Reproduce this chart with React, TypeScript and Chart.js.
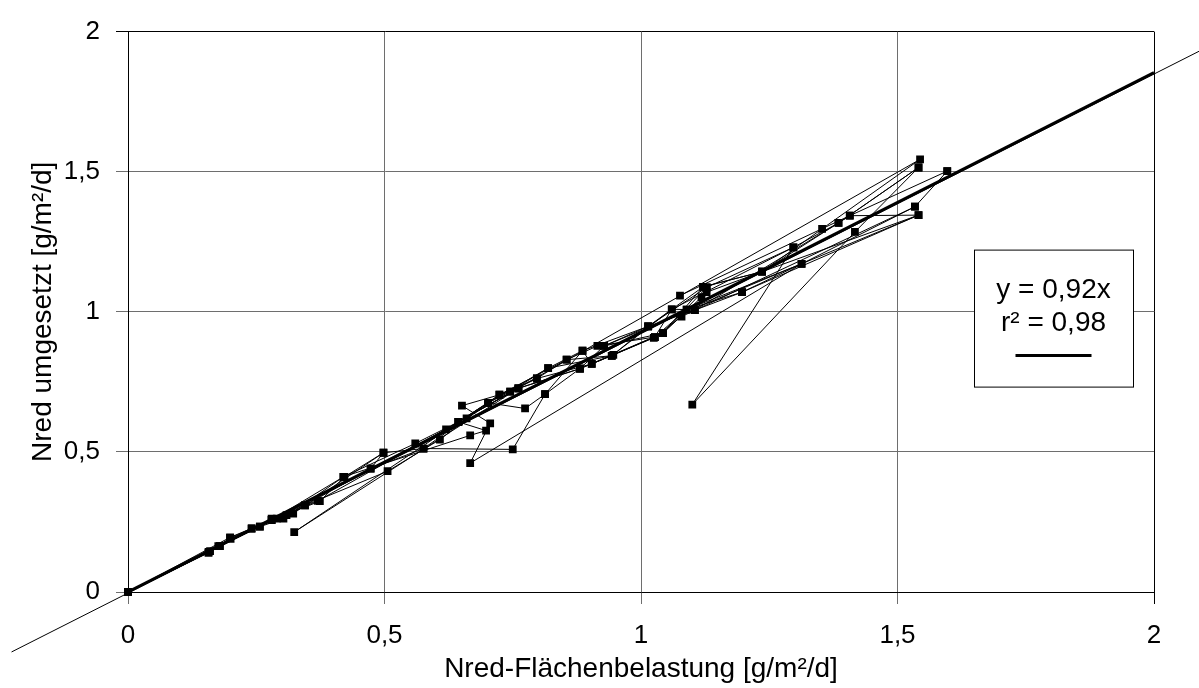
import { useEffect, useRef } from "react";
import { Chart, registerables } from "chart.js";

Chart.register(...registerables);

// ---- data (x = Nred-Flächenbelastung, y = Nred umgesetzt) ----
const tickValues = [0, 0.5, 1, 1.5, 2];

const run1: [number, number][] = [
  [0, 0], [0.157, 0.14], [0.199, 0.193], [0.28, 0.257], [0.374, 0.324], [0.422, 0.411],
  [0.498, 0.497], [0.473, 0.44], [0.576, 0.512], [0.75, 0.509], [0.813, 0.706], [0.886, 0.861],
  [1.014, 0.948], [1.121, 1.089], [1.236, 1.143], [1.353, 1.296], [1.544, 1.544], [0.644, 0.607],
  [0.761, 0.727], [0.881, 0.797], [1.043, 0.924], [1.128, 1.087],
];

const run2: [number, number][] = [
  [0, 0], [0.176, 0.164], [0.241, 0.225], [0.309, 0.274], [0.345, 0.309], [0.506, 0.431],
  [0.608, 0.544], [0.702, 0.675], [0.819, 0.799], [0.943, 0.843], [1.06, 1.009], [1.297, 1.23],
  [1.1, 0.669], [1.417, 1.285], [1.541, 1.515], [1.385, 1.317], [1.105, 1.006], [1.197, 1.07],
  [1.541, 1.345], [1.407, 1.343], [1.076, 1.058],
];

const run3: [number, number][] = [
  [0, 0], [0.157, 0.143], [0.179, 0.164], [0.257, 0.233], [0.29, 0.262], [0.37, 0.325],
  [0.761, 0.727], [0.324, 0.214], [0.724, 0.704], [0.855, 0.829], [0.915, 0.878], [1.027, 0.91],
  [1.089, 1.008], [1.313, 1.171], [0.667, 0.46], [0.706, 0.602], [0.651, 0.665], [0.745, 0.715],
  [0.797, 0.762], [0.904, 0.814], [1.025, 0.907], [1.079, 0.983], [1.534, 1.375], [1.597, 1.502],
];

const run4: [number, number][] = [
  [0, 0], [0.199, 0.195], [0.28, 0.257], [0.42, 0.411], [0.667, 0.559], [0.698, 0.576],
  [0.644, 0.607], [0.702, 0.675], [0.774, 0.655], [0.813, 0.706], [0.881, 0.797], [0.946, 0.846],
  [1.043, 0.924], [1.118, 1.052], [1.128, 1.07], [1.236, 1.143], [1.541, 1.345], [0.928, 0.878],
  [1.014, 0.948], [1.105, 1.006],
];

const run5: [number, number][] = [
  [0, 0], [0.16, 0.146], [0.241, 0.228], [0.322, 0.28], [0.498, 0.497], [0.576, 0.512],
  [0.66, 0.62], [0.724, 0.704], [0.797, 0.762], [0.855, 0.829], [0.943, 0.843], [1.014, 0.948],
  [1.128, 1.087], [1.297, 1.23], [1.385, 1.317], [1.541, 1.515],
];

const run6: [number, number][] = [
  [0, 0], [0.179, 0.164], [0.28, 0.262], [0.345, 0.309], [0.473, 0.44], [0.62, 0.58],
  [0.702, 0.675], [0.745, 0.715], [0.819, 0.799], [0.886, 0.861], [0.904, 0.814], [1.027, 0.91],
  [1.06, 1.009], [1.089, 1.008], [1.197, 1.07], [1.313, 1.171], [1.534, 1.375],
];

const run7: [number, number][] = [
  [0, 0], [0.2, 0.19], [0.257, 0.233], [0.303, 0.262], [0.42, 0.411], [0.56, 0.53],
  [0.644, 0.607], [0.761, 0.727], [0.881, 0.797], [0.928, 0.878], [1.043, 0.924], [1.121, 1.089],
  [1.236, 1.143], [1.407, 1.343], [1.597, 1.502],
];

const runs = [run1, run2, run3, run4, run5, run6, run7];

const trendLine: [number, number][] = [[0, 0], [2, 1.854]];
const trendExtension: [number, number][] = [[-0.227, -0.214], [2.088, 1.93]];

const legendLines = ["y = 0,92x", "r² = 0,98"];
const xTitle = "Nred-Flächenbelastung [g/m²/d]";
const yTitle = "Nred umgesetzt [g/m²/d]";

const FONT = "'Liberation Sans', Arial, Helvetica, sans-serif";

const toPts = (arr: [number, number][]) => arr.map(([x, y]) => ({ x, y }));

const legendBoxPlugin = {
  id: "legendBox",
  afterDatasetsDraw(chart: any) {
    const { ctx, chartArea } = chart;
    const w = 159;
    const h = 137;
    const left = chartArea.right - 180;
    const top = chartArea.top + 218;
    const cx = left + w / 2;
    ctx.save();
    ctx.fillStyle = "#fff";
    ctx.fillRect(left, top, w, h);
    ctx.strokeStyle = "#000";
    ctx.lineWidth = 1;
    ctx.strokeRect(left + 0.5, top + 0.5, w, h);
    ctx.fillStyle = "#000";
    ctx.font = `28px ${FONT}`;
    ctx.textAlign = "center";
    ctx.textBaseline = "middle";
    ctx.fillText(legendLines[0], cx, top + 41);
    ctx.fillText(legendLines[1], cx, top + 74);
    ctx.beginPath();
    ctx.lineWidth = 3;
    ctx.moveTo(cx - 38, top + 106);
    ctx.lineTo(cx + 38, top + 106);
    ctx.stroke();
    ctx.restore();
  },
};

const fmt = (v: number | string) => String(v).replace(".", ",");

export default function App() {
  const ref = useRef<HTMLCanvasElement | null>(null);

  useEffect(() => {
    if (!ref.current) return;
    const runStyle = {
      showLine: true,
      borderColor: "#000",
      borderWidth: 1,
      pointStyle: "rect" as const,
      pointRadius: 5.5,
      pointBackgroundColor: "#000",
      pointBorderWidth: 0,
      clip: 6 as any,
      order: 2,
    };
    const gridColor = (c: any) => (c.tick && c.tick.value === 2 ? "#000" : "#6e6e6e");
    const chart = new Chart(ref.current, {
      type: "scatter",
      data: {
        datasets: [
          ...runs.map((r, i) => ({ ...runStyle, label: `run${i + 1}`, data: toPts(r) })),
          {
            label: "trend",
            data: toPts(trendLine),
            showLine: true,
            borderColor: "#000",
            borderWidth: 3,
            pointRadius: 0,
            order: 0,
          },
          {
            label: "trendExt",
            data: toPts(trendExtension),
            showLine: true,
            borderColor: "#000",
            borderWidth: 1,
            pointRadius: 0,
            clip: false as any,
            order: 1,
          },
        ],
      },
      options: {
        animation: false,
        responsive: false,
        devicePixelRatio: 1,
        layout: { padding: { top: 18, right: 45, left: 0, bottom: 0 } },
        plugins: {
          legend: { display: false },
          tooltip: { enabled: false },
        },
        scales: {
          x: {
            type: "linear",
            min: 0,
            max: 2,
            afterFit: (s: any) => {
              s.height = 96;
            },
            afterBuildTicks: (s: any) => {
              s.ticks = tickValues.map((v) => ({ value: v }));
            },
            ticks: {
              callback: (v: any) => fmt(v),
              font: { family: FONT, size: 26 },
              color: "#000",
              padding: 16,
              autoSkip: false,
              maxRotation: 0,
            },
            grid: { color: gridColor, lineWidth: 1, tickLength: 12 },
            border: { color: "#000", width: 1 },
            title: {
              display: true,
              text: xTitle,
              font: { family: FONT, size: 28 },
              color: "#000",
              padding: { top: 0, bottom: 2 },
            },
          },
          y: {
            type: "linear",
            min: 0,
            max: 2,
            afterFit: (s: any) => {
              s.width = 128;
            },
            afterBuildTicks: (s: any) => {
              s.ticks = tickValues.map((v) => ({ value: v }));
            },
            ticks: {
              callback: (v: any) => fmt(v),
              font: { family: FONT, size: 26 },
              color: "#000",
              padding: 16,
              autoSkip: false,
            },
            grid: { color: gridColor, lineWidth: 1, tickLength: 12 },
            border: { color: "#000", width: 1 },
            title: {
              display: true,
              text: yTitle,
              font: { family: FONT, size: 28 },
              color: "#000",
              padding: { top: 26, bottom: 0 },
            },
          },
        },
      },
      plugins: [legendBoxPlugin],
    });
    return () => chart.destroy();
  }, []);

  return (
    <div style={{ position: "absolute", left: 0, top: 0, width: 1199, height: 688, background: "#fff" }}>
      <canvas ref={ref} width={1199} height={688} style={{ display: "block" }} />
    </div>
  );
}
